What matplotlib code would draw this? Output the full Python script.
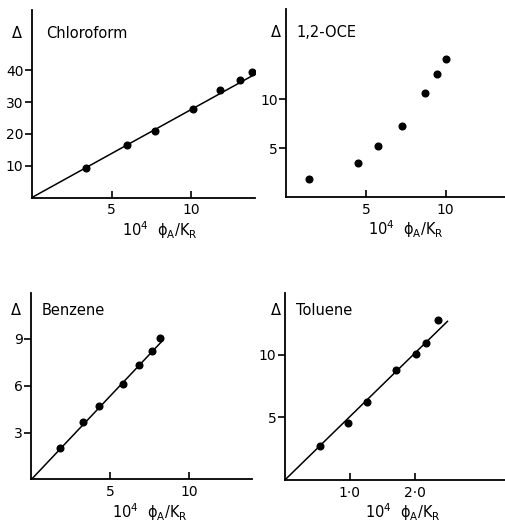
import matplotlib
matplotlib.use('Agg')

import matplotlib.pyplot as plt

# chloroform
chl_x = [3.42, 5.99, 7.70, 10.09, 11.83, 13.04, 13.81]
chl_y = [9.4, 16.5, 20.9, 28.0, 33.7, 37.1, 39.4]
chl_fit = [13.9, 38.5]

# 1,2-dichloroethane (no line)
dce_x = [1.40, 4.48, 5.75, 7.26, 8.68, 9.45, 10.0]
dce_y = [1.8, 3.5, 5.2, 7.3, 10.6, 12.6, 14.1]

# benzene
ben_x = [1.82, 3.29, 4.31, 5.81, 6.85, 7.64, 8.17]
ben_y = [2.02, 3.66, 4.70, 6.11, 7.34, 8.19, 9.04]
ben_fit = [8.34, 8.9]

# toluene
tol_x = [0.54, 0.97, 1.27, 1.71, 2.01, 2.17, 2.36]
tol_y = [2.73, 4.57, 6.22, 8.82, 10.07, 10.93, 12.8]
tol_fit = [2.50, 12.67]

xlabel = r'10$^4$  ϕ$_{\mathrm{A}}$/K$_{\mathrm{R}}$'

fig = plt.figure(figsize=(5.06, 5.24), dpi=100)

def panel(rect, xs, ys, fit, title, xlim, ylim, xt, xtl, yt, lab_x, delta_x, title_x, top_y):
    ax = fig.add_axes(rect)
    ax.plot(xs, ys, 'o', color='black', ms=4.8)
    if fit:
        ax.plot([0, fit[0]], [0, fit[1]], color='black', lw=1.1)
    ax.set_xlim(xlim)
    ax.set_ylim(ylim)
    ax.spines['top'].set_visible(False)
    ax.spines['right'].set_visible(False)
    ax.spines['left'].set_linewidth(1.3)
    ax.spines['bottom'].set_linewidth(1.3)
    ax.set_xticks(xt)
    ax.set_xticklabels(xtl, fontsize=10)
    ax.set_yticks(yt)
    ax.set_yticklabels([str(v) for v in yt], fontsize=10)
    ax.tick_params(axis='x', direction='in', length=5, width=1.2, pad=4)
    ax.tick_params(axis='y', direction='out', length=5, width=1.2, pad=1)
    ax.set_xlabel(xlabel, fontsize=10.5)
    ax.xaxis.set_label_coords(lab_x, -0.115)
    ax.text(delta_x, top_y, 'Δ', transform=ax.transAxes, fontsize=10.5,
            ha='center', va='center')
    ax.text(title_x, top_y, title, transform=ax.transAxes, fontsize=10.5,
            ha='left', va='center')
    return ax

panel([0.063, 0.623, 0.441, 0.358], chl_x, chl_y, chl_fit, 'Chloroform',
      (0, 14.0), (0, 59), [5, 10], ['5', '10'], [10, 20, 30, 40],
      0.574, -0.069, 0.066, 0.877)
panel([0.566, 0.624, 0.434, 0.358], dce_x, dce_y, None, '1,2-OCE',
      (0, 13.8), (0, 19.2), [5, 10], ['5', '10'], [5, 10],
      0.544, -0.049, 0.045, 0.877)
panel([0.062, 0.085, 0.436, 0.355], ben_x, ben_y, ben_fit, 'Benzene',
      (0, 14.0), (0, 11.9), [5, 10], ['5', '10'], [3, 6, 9],
      0.537, -0.07, 0.046, 0.91)
panel([0.563, 0.084, 0.437, 0.356], tol_x, tol_y, tol_fit, 'Toluene',
      (0, 3.4), (0, 14.9), [1.0, 2.0], ['1·0', '2·0'], [5, 10],
      0.534, -0.042, 0.051, 0.91)

plt.savefig('out.png', dpi=100)
